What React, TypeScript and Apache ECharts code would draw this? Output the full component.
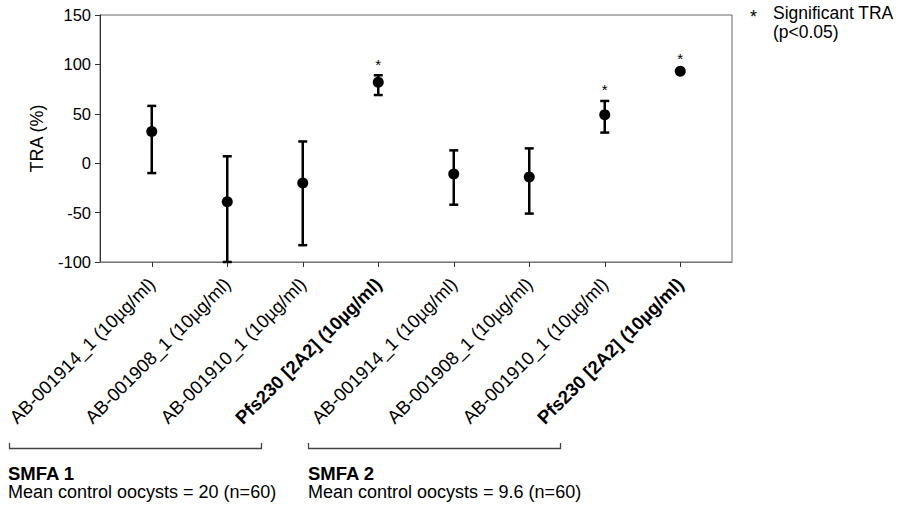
import React, { useEffect, useRef } from "react";
import * as echarts from "echarts";

const categories = [
  "AB-001914_1 (10µg/ml)",
  "AB-001908_1 (10µg/ml)",
  "AB-001910_1 (10µg/ml)",
  "Pfs230 [2A2] (10µg/ml)",
  "AB-001914_1 (10µg/ml)",
  "AB-001908_1 (10µg/ml)",
  "AB-001910_1 (10µg/ml)",
  "Pfs230 [2A2] (10µg/ml)",
];
const boldLabel = [false, false, false, true, false, false, false, true];
const means = [32, -39, -20, 82, -11, -14, 49, 93];
const upper = [58, 7, 22, 89, 13, 15, 63, 93];
const lower = [-10, -100, -83, 69, -42, -51, 31, 93];
const significant = [false, false, false, true, false, false, true, true];

const groupTitles = ["SMFA 1", "SMFA 2"];
const groupNotes = ["Mean control oocysts = 20 (n=60)", "Mean control oocysts = 9.6 (n=60)"];
const legendLines = ["Significant TRA", "(p<0.05)"];

const FONT = "'Liberation Sans', Arial, Helvetica, sans-serif";

export default function App() {
  const ref = useRef<HTMLDivElement>(null);
  useEffect(() => {
    if (!ref.current) return;
    const chart = echarts.init(ref.current, undefined, { renderer: "svg" });
    const groupText = (i: number, left: number) => ({
      type: "text", left, top: 464,
      style: {
        text: "{t|" + groupTitles[i] + "}\n{n|" + groupNotes[i] + "}",
        fontFamily: FONT, fill: "#000",
        rich: {
          t: { fontSize: 18.5, fontWeight: "bold", fontFamily: FONT, lineHeight: 19, fill: "#000" },
          n: { fontSize: 18, fontFamily: FONT, lineHeight: 18, fill: "#000" },
        },
      },
    });
    const option: any = {
      animation: false,
      textStyle: { fontFamily: FONT },
      grid: [
        { left: 100, right: 175, top: 15, bottom: 249, show: true, borderColor: "#666", borderWidth: 1, backgroundColor: "transparent" },
        { left: 114, right: 189, top: 15, bottom: 249 },
      ],
      xAxis: [
        {
          gridIndex: 0, type: "value", min: 0, max: 1,
          axisLine: { show: true, onZero: false, lineStyle: { color: "#777", width: 1 } },
          axisTick: { show: false }, axisLabel: { show: false }, splitLine: { show: false },
        },
        {
          gridIndex: 1, type: "category", data: categories, boundaryGap: true,
          axisLine: { show: false, onZero: false },
          axisTick: { show: true, alignWithLabel: true, length: 5, lineStyle: { color: "#333", width: 1 } },
          axisLabel: {
            rotate: 45, interval: 0, fontSize: 18.5, margin: 19, color: "#000", fontFamily: FONT,
            formatter: (v: string, i: number) => (boldLabel[i] ? "{b|" + v + "}" : v),
            rich: { b: { fontWeight: "bold", fontSize: 18.5, fontFamily: FONT, color: "#000" } },
          },
          splitLine: { show: false },
        },
      ],
      yAxis: [
        {
          gridIndex: 0, type: "value", min: -100, max: 150, interval: 50,
          axisLine: { show: true, lineStyle: { color: "#333", width: 1 } },
          axisTick: { show: true, length: 5, lineStyle: { color: "#333" } },
          axisLabel: { fontSize: 16.5, color: "#000", margin: 9, fontFamily: FONT },
          splitLine: { show: false },
          name: "TRA (%)", nameLocation: "middle", nameGap: 54,
          nameTextStyle: { fontSize: 18, color: "#000", fontFamily: FONT },
        },
        { gridIndex: 1, type: "value", min: -100, max: 150, show: false },
      ],
      series: [
        {
          type: "custom",
          xAxisIndex: 1, yAxisIndex: 1,
          data: categories.map((_, i) => [i, lower[i], upper[i], significant[i] ? 1 : 0]),
          encode: { x: 0, y: [1, 2] },
          renderItem: (params: any, api: any) => {
            const x = api.value(0);
            const lo = api.coord([x, api.value(1)]);
            const hi = api.coord([x, api.value(2)]);
            const hw = 4.5;
            const children: any[] = [
              { type: "line", shape: { x1: lo[0], y1: lo[1], x2: hi[0], y2: hi[1] }, style: { stroke: "#000", lineWidth: 2.5 } },
              { type: "line", shape: { x1: lo[0] - hw, y1: lo[1], x2: lo[0] + hw, y2: lo[1] }, style: { stroke: "#000", lineWidth: 2.5 } },
              { type: "line", shape: { x1: hi[0] - hw, y1: hi[1], x2: hi[0] + hw, y2: hi[1] }, style: { stroke: "#000", lineWidth: 2.5 } },
            ];
            if (api.value(3) === 1) {
              const top = Math.min(hi[1], api.coord([x, means[params.dataIndex]])[1] - 2);
              children.push({
                type: "text", x: hi[0], y: top - 11,
                style: { text: "*", fontSize: 15, fontFamily: FONT, fill: "#000", align: "center", verticalAlign: "middle" },
              });
            }
            return { type: "group", children };
          },
          z: 3,
        },
        {
          type: "scatter",
          xAxisIndex: 1, yAxisIndex: 1,
          data: means.map((m, i) => [i, m]),
          symbol: "circle", symbolSize: 11,
          itemStyle: { color: "#000", opacity: 1 },
          z: 4,
        },
      ],
      graphic: [
        { type: "text", left: 750, top: 8, style: { text: "*", fontSize: 18, fontFamily: FONT, fill: "#000" } },
        { type: "text", left: 773, top: 4, style: { text: legendLines[0], fontSize: 17.5, fontFamily: FONT, fill: "#000" } },
        { type: "text", left: 773, top: 22.5, style: { text: legendLines[1], fontSize: 17.5, fontFamily: FONT, fill: "#000" } },
        { type: "polyline", shape: { points: [[9.5, 443], [9.5, 448.5], [261.5, 448.5], [261.5, 443]] }, style: { stroke: "#444", lineWidth: 1.3, fill: null } },
        { type: "polyline", shape: { points: [[308.5, 443], [308.5, 448.5], [560.5, 448.5], [560.5, 443]] }, style: { stroke: "#444", lineWidth: 1.3, fill: null } },
        groupText(0, 8),
        groupText(1, 308),
      ],
    };
    chart.setOption(option);
    return () => chart.dispose();
  }, []);
  return <div ref={ref} style={{ width: 907, height: 511, position: "absolute", left: 0, top: 0, background: "#fff" }} />;
}
